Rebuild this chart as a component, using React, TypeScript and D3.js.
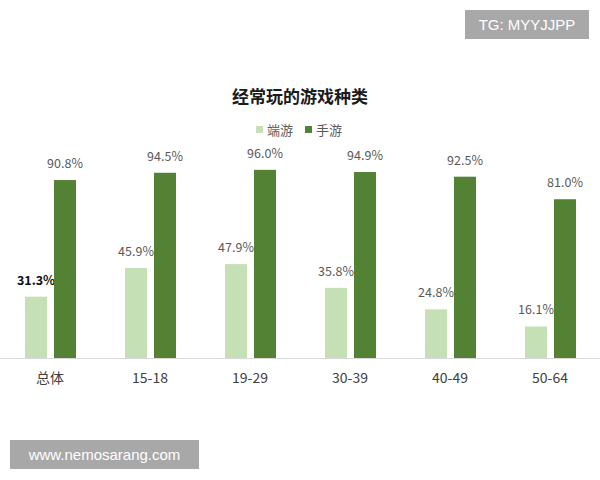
import React from "react";
import * as d3 from "d3";

const categories = ["总体", "15-18", "19-29", "30-39", "40-49", "50-64"];
const seriesNames = ["端游", "手游"];
const pcValues = [31.3, 45.9, 47.9, 35.8, 24.8, 16.1];
const mobileValues = [90.8, 94.5, 96.0, 94.9, 92.5, 81.0];
const colors = ["#c5e0b4", "#548235"];

const W = 600;
const H = 480;
const font = "'Noto Sans CJK SC', 'Noto Sans', sans-serif";

export default function App() {
  const x = d3.scaleBand<string>().domain(categories).range([0, 600]).padding(0);
  const y = d3.scaleLinear().domain([0, 100]).range([358, 162]);
  const barW = 22;
  const offsets = [-25, 4];
  const series = [pcValues, mobileValues];

  return (
    <svg width={W} height={H} style={{ position: "absolute", left: 0, top: 0, background: "#fff" }} fontFamily={font}>
      <rect x={0} y={0} width={W} height={H} fill="#fff" />
      <text x={300} y={103} textAnchor="middle" fontSize={17} fontWeight="bold" fill="#1a1a1a">经常玩的游戏种类</text>
      {seriesNames.map((n, i) => (
        <g key={n} transform={`translate(${256 + i * 49},130)`}>
          <rect x={0} y={-4} width={7} height={7} fill={colors[i]} />
          <text x={11} y={5} fontSize={13} fill="#595959">{n}</text>
        </g>
      ))}
      {series.map((vals, si) =>
        vals.map((v, ci) => {
          const cx = (x(categories[ci]) as number) + x.bandwidth() / 2 + offsets[si];
          const bold = si === 0 && ci === 0;
          return (
            <g key={`${si}-${ci}`}>
              <rect x={cx} y={y(v)} width={barW} height={y(0) - y(v)} fill={colors[si]} />
              <text
                x={cx + barW / 2}
                y={y(v) - 12}
                textAnchor="middle"
                fontSize={12.5}
                fontWeight={bold ? "bold" : "normal"}
                fill={bold ? "#111" : "#595959"}
              >
                {v.toFixed(1)}%
              </text>
            </g>
          );
        })
      )}
      <line x1={0} x2={600} y1={358.5} y2={358.5} stroke="#d9d9d9" strokeWidth={1} />
      {categories.map((c) => (
        <text key={c} x={(x(c) as number) + x.bandwidth() / 2} y={383} textAnchor="middle" fontSize={14} fill="#404040">
          {c}
        </text>
      ))}
      <rect x={465} y={10} width={124} height={29} fill="#a8a8a8" />
      <text x={527} y={30} textAnchor="middle" fontSize={15} fill="#fff" fontFamily="'Liberation Sans', Arial, sans-serif">TG: MYYJJPP</text>
      <rect x={10} y={440} width={189} height={29} fill="#a8a8a8" />
      <text x={104.5} y={460} textAnchor="middle" fontSize={15} fill="#fff" fontFamily="'Liberation Sans', Arial, sans-serif">www.nemosarang.com</text>
    </svg>
  );
}
